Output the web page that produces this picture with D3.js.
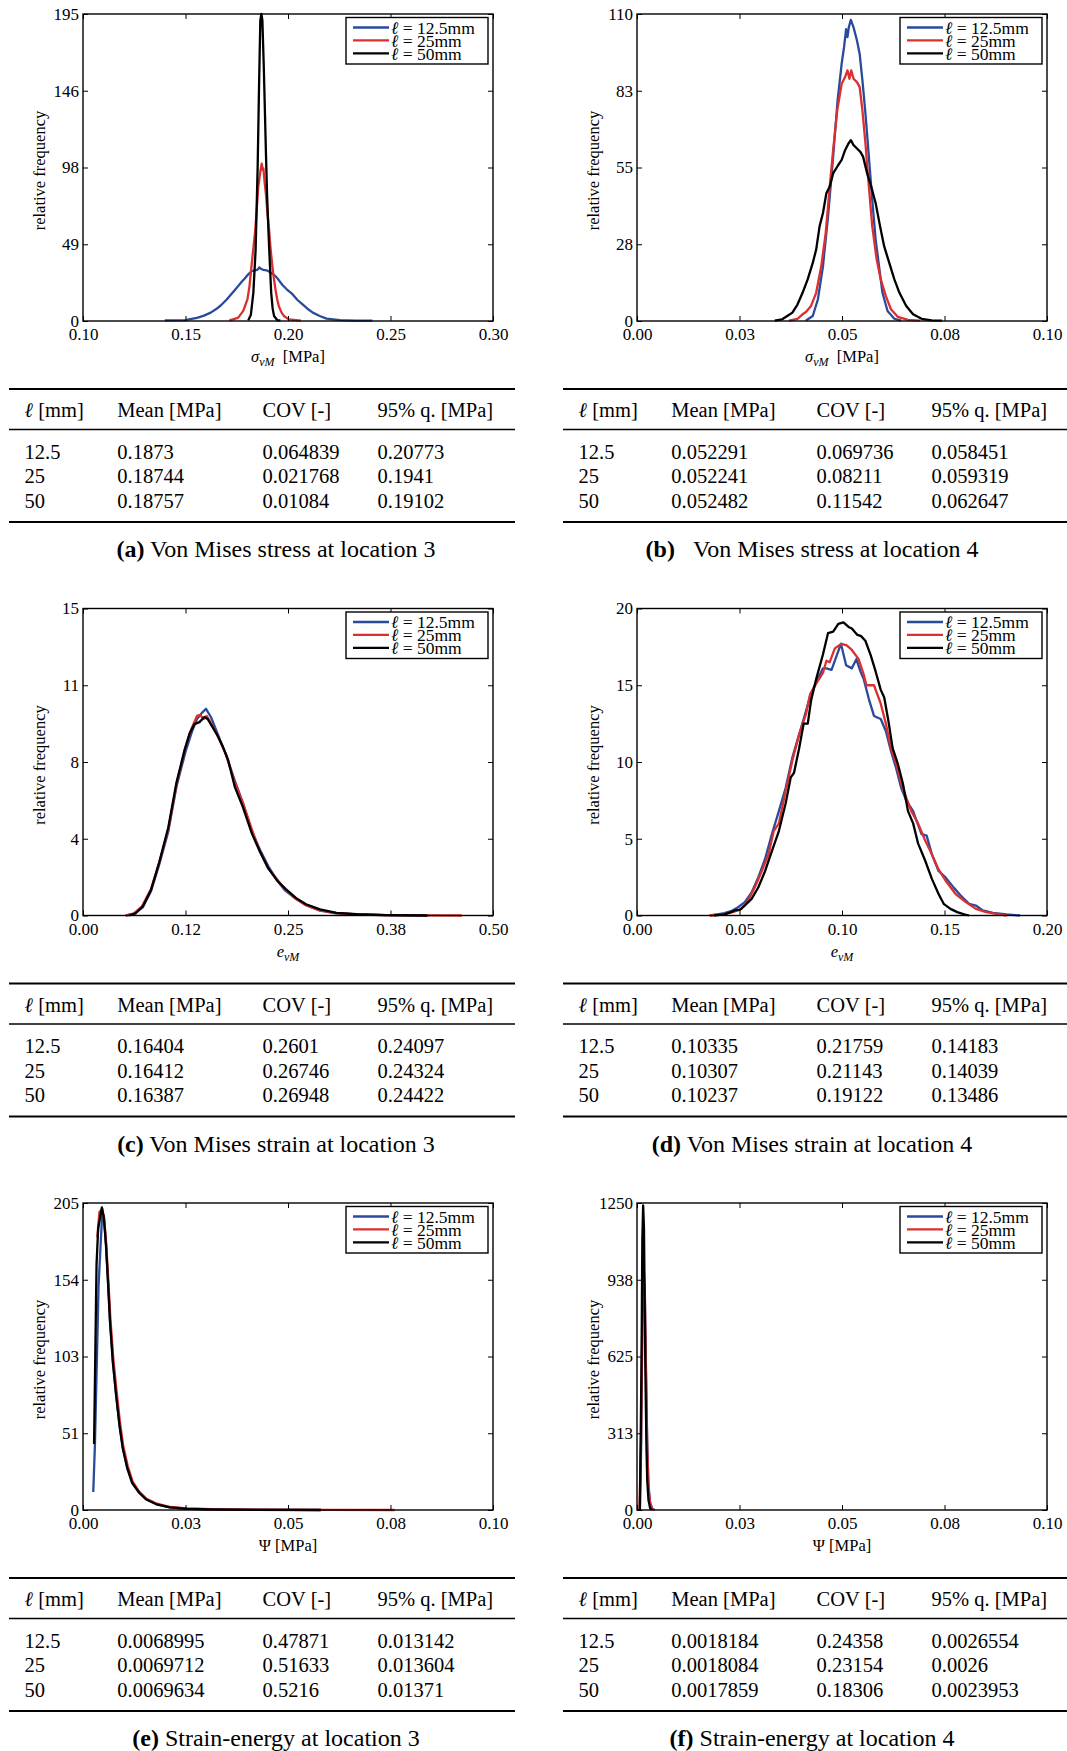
<!DOCTYPE html>
<html>
<head>
<meta charset="utf-8">
<script src="https://cdn.jsdelivr.net/npm/d3@7"></script>
<style>
  body { margin: 0; background: #fff; }
  svg { display: block; font-family: "Liberation Serif", "Times New Roman", serif; }
</style>
</head>
<body>
<svg id="fig" width="1067" height="1751"></svg>
<script>
// ---------- series: [value, relative frequency] ----------
// (a) von Mises stress, location 3
const aL125 = [[0.1399,0.4],[0.1498,0.6],[0.1556,2],[0.1590,3.4],[0.1623,5.3],[0.1650,7.6],[0.1673,10],[0.1700,13.5],[0.1723,17],[0.1740,19.6],[0.1756,22],[0.1772,24.6],[0.1789,27],[0.1805,29.5],[0.1822,31.6],[0.1840,32.2],[0.1852,32.6],[0.1860,34],[0.1870,33],[0.1880,32.5],[0.1895,32.2],[0.1905,31.6],[0.1922,30.2],[0.1939,28.5],[0.1955,26],[0.1972,23],[0.1995,20],[0.2022,17],[0.2045,13.5],[0.2071,10.5],[0.2095,7.8],[0.2121,5.3],[0.2155,3.2],[0.2188,1.5],[0.2254,0.6],[0.2330,0.3],[0.2412,0.2]];
const aL25 = [[0.1714,0.4],[0.1756,2],[0.1781,6.3],[0.1802,13.7],[0.1812,22],[0.1822,34.8],[0.1830,45],[0.1839,55.9],[0.1847,70],[0.1855,85.4],[0.1865,94.9],[0.1872,100],[0.1876,96],[0.1880,97],[0.1886,88],[0.1892,81],[0.1900,68],[0.1909,55.9],[0.1915,46],[0.1922,36.9],[0.1930,28],[0.1939,20],[0.1947,14],[0.1955,9.5],[0.1968,5.5],[0.1980,3.2],[0.2005,1],[0.2063,0.2]];
const aL50 = [[0.1806,0.4],[0.1819,4],[0.1831,18],[0.1842,45],[0.1852,98],[0.1859,151],[0.1865,191],[0.1870,195],[0.1875,191],[0.1882,161],[0.1892,108.6],[0.1898,80],[0.1905,56],[0.1912,35],[0.1918,18],[0.1925,8],[0.1932,3.2],[0.1947,0.6],[0.1963,0.2]];

// (b) von Mises stress, location 4
const bL125 = [[0.04121,0.2],[0.04287,1.8],[0.04411,7.7],[0.04536,19.6],[0.0466,37.5],[0.04784,58.9],[0.04892,79],[0.04992,92.2],[0.0505,98.1],[0.051,104.6],[0.05133,101.7],[0.05166,105.2],[0.05216,107.9],[0.05282,105.2],[0.05365,100.5],[0.05431,95.7],[0.05498,86.2],[0.05572,74.3],[0.05655,58.9],[0.05738,43.4],[0.05821,29.1],[0.05904,19.6],[0.05987,10.1],[0.06111,3.6],[0.06277,0.8],[0.06443,0.1]];
const bL25 = [[0.03706,0.1],[0.03914,0.8],[0.04038,2.4],[0.04121,3.2],[0.04245,5.4],[0.0437,10.1],[0.04494,19.6],[0.04602,31.5],[0.04701,48.2],[0.04784,61.2],[0.04884,75.5],[0.04992,85],[0.05075,87.4],[0.05133,89.8],[0.05182,86.8],[0.05224,89.8],[0.05282,86.8],[0.05365,85.6],[0.05431,83.8],[0.05498,75.5],[0.05572,63.6],[0.05655,48.2],[0.05738,33.9],[0.05846,22],[0.05945,14.9],[0.0607,8.9],[0.06194,4.2],[0.0636,1.5],[0.06609,0.4],[0.06899,0.1]];
const bL50 = [[0.03358,0.1],[0.0354,0.6],[0.03665,1.8],[0.0379,3],[0.03914,5.9],[0.04038,10.1],[0.04163,14.9],[0.04287,20.8],[0.0437,25.6],[0.04453,33.9],[0.04536,38.7],[0.04619,45.8],[0.04701,48.2],[0.04784,52.9],[0.04909,55.9],[0.04992,57.7],[0.05075,61.2],[0.05158,63.6],[0.05216,64.8],[0.05282,63],[0.05365,61.8],[0.05448,60.6],[0.05514,58.9],[0.05614,52.9],[0.05713,48.2],[0.05821,42.2],[0.05929,33.9],[0.06028,26.8],[0.06153,20.8],[0.06277,14.9],[0.06401,10.1],[0.06567,5.4],[0.06733,2.4],[0.0694,0.8],[0.07189,0.2],[0.07438,0.1]];

// (c) von Mises strain, location 3
const cL125 = [[0.052,0],[0.062,0.08],[0.073,0.4],[0.083,1.2],[0.093,2.5],[0.104,4.1],[0.114,6.3],[0.125,8.0],[0.133,9.0],[0.139,9.6],[0.145,9.9],[0.150,10.1],[0.156,9.7],[0.164,8.9],[0.174,7.9],[0.185,6.6],[0.195,5.5],[0.206,4.1],[0.216,3.2],[0.226,2.4],[0.237,1.7],[0.247,1.2],[0.260,0.8],[0.272,0.5],[0.289,0.24],[0.309,0.11],[0.334,0.05],[0.368,0.02],[0.420,0]];
const cL25 = [[0.052,0],[0.062,0.1],[0.072,0.45],[0.083,1.3],[0.093,2.6],[0.104,4.2],[0.114,6.4],[0.124,8.1],[0.132,9.1],[0.139,9.75],[0.143,9.8],[0.147,9.6],[0.151,9.75],[0.156,9.4],[0.164,8.8],[0.174,7.9],[0.185,6.5],[0.195,5.5],[0.206,4.2],[0.216,3.1],[0.226,2.3],[0.237,1.75],[0.247,1.25],[0.260,0.8],[0.272,0.5],[0.289,0.25],[0.309,0.12],[0.334,0.05],[0.370,0.02],[0.420,0.01],[0.462,0]];
const cL50 = [[0.056,0],[0.064,0.1],[0.073,0.45],[0.083,1.25],[0.093,2.6],[0.104,4.3],[0.114,6.5],[0.124,8.1],[0.130,8.9],[0.136,9.35],[0.142,9.45],[0.148,9.7],[0.152,9.6],[0.158,9.2],[0.164,8.8],[0.170,8.3],[0.177,7.6],[0.185,6.3],[0.195,5.3],[0.206,4.0],[0.216,3.1],[0.226,2.3],[0.237,1.7],[0.247,1.3],[0.260,0.85],[0.272,0.55],[0.289,0.3],[0.309,0.13],[0.334,0.06],[0.370,0.02],[0.420,0]];

// (d) von Mises strain, location 4
const dL125 = [[0.0355,0],[0.0393,0.07],[0.0426,0.15],[0.0459,0.28],[0.0493,0.54],[0.0526,0.87],[0.0559,1.5],[0.0592,2.5],[0.0625,3.7],[0.0658,5.3],[0.0692,6.8],[0.0725,8.3],[0.0758,10.3],[0.0791,11.8],[0.0824,13.3],[0.0849,14.5],[0.0882,15.4],[0.0907,16.1],[0.0924,16.1],[0.0949,16.0],[0.0973,16.9],[0.0995,17.7],[0.102,16.3],[0.1048,16.1],[0.107,16.7],[0.109,15.9],[0.1106,15.4],[0.1131,14.1],[0.1156,13.0],[0.1189,12.8],[0.1214,12.0],[0.1239,10.7],[0.1264,9.6],[0.1289,8.3],[0.1313,7.5],[0.1347,6.8],[0.1363,6.2],[0.1388,5.3],[0.1413,5.2],[0.1438,4.0],[0.1471,2.9],[0.1504,2.5],[0.1546,1.8],[0.1579,1.3],[0.162,0.76],[0.1653,0.65],[0.1687,0.33],[0.1736,0.17],[0.1803,0.07],[0.1869,0]];
const dL25 = [[0.0355,0],[0.0426,0.1],[0.0476,0.26],[0.0509,0.43],[0.0542,0.98],[0.0575,1.84],[0.0609,2.9],[0.0642,4.0],[0.0667,5.5],[0.0692,6.0],[0.0725,8.1],[0.0758,10.1],[0.0791,11.8],[0.0824,13.1],[0.0844,14.4],[0.0874,15.1],[0.0907,15.8],[0.0924,16.6],[0.094,16.5],[0.0965,17.4],[0.0998,17.7],[0.1023,17.6],[0.1048,17.3],[0.1081,16.7],[0.1106,15.7],[0.1119,15.0],[0.1156,15.0],[0.1189,13.8],[0.1214,12.5],[0.1239,10.9],[0.1264,9.9],[0.1289,8.6],[0.1313,7.7],[0.1338,6.8],[0.1371,6.0],[0.1405,4.9],[0.1438,4.0],[0.1471,3.0],[0.1504,2.3],[0.1554,1.4],[0.1604,0.87],[0.1653,0.43],[0.1703,0.22],[0.1753,0.11],[0.1803,0]];
const dL50 = [[0.0376,0],[0.0426,0.07],[0.0459,0.22],[0.0476,0.33],[0.0501,0.37],[0.0526,0.65],[0.0559,1.08],[0.0592,1.84],[0.0625,2.9],[0.0658,4.2],[0.0692,5.5],[0.0725,7.3],[0.075,9.0],[0.0766,9.3],[0.0791,10.9],[0.0813,12.5],[0.0833,12.5],[0.0849,14.0],[0.0874,15.4],[0.0907,17.0],[0.0932,18.4],[0.0957,18.5],[0.0982,19.0],[0.1007,19.1],[0.1032,18.8],[0.1048,18.7],[0.1073,18.3],[0.1093,18.2],[0.1114,17.9],[0.1139,17.0],[0.1164,15.9],[0.1189,14.7],[0.1206,14.2],[0.1226,12.7],[0.1247,10.9],[0.1272,9.9],[0.1297,8.6],[0.1322,6.8],[0.1347,6.0],[0.1371,4.7],[0.1405,3.6],[0.1438,2.4],[0.1471,1.4],[0.1496,0.76],[0.1529,0.43],[0.1562,0.22],[0.1596,0.07],[0.162,0]];

// (e) strain energy, location 3
const eL125 = [[0.0025,12],[0.0029,43],[0.0038,150],[0.0047,199],[0.0051,196],[0.0056,178],[0.0061,153],[0.0066,126],[0.0073,99],[0.0081,77],[0.0089,57],[0.0097,42],[0.0108,28],[0.012,18.5],[0.0137,11.8],[0.0154,7.3],[0.0179,4],[0.0212,1.8],[0.0253,0.9],[0.0311,0.45],[0.042,0.2],[0.058,0]];
const eL25 = [[0.0035,182],[0.004,199],[0.0047,201],[0.0052,193],[0.0057,176],[0.0062,152],[0.0067,127],[0.0074,101],[0.0082,79],[0.009,59],[0.0098,43],[0.0109,29.5],[0.0121,19],[0.0138,12],[0.0155,7.5],[0.018,4.2],[0.0213,2],[0.0254,1],[0.0312,0.5],[0.042,0.25],[0.06,0.1],[0.076,0]];
const eL50 = [[0.0027,44],[0.0033,164],[0.0037,188],[0.0046,202],[0.0051,195],[0.0056,177],[0.0061,152],[0.0066,125],[0.0073,98],[0.0081,76],[0.0089,56.5],[0.0097,41],[0.0108,28],[0.012,18],[0.0137,11.5],[0.0154,7],[0.0179,3.8],[0.0212,1.7],[0.0253,0.8],[0.0311,0.4],[0.042,0.15],[0.058,0]];

// (f) strain energy, location 4
const fL125 = [[0.0007,0],[0.0010,250],[0.0013,750],[0.0016,950],[0.0019,880],[0.0022,560],[0.0025,270],[0.0028,100],[0.0032,30],[0.0037,6],[0.0043,0]];
const fL25 = [[0.0006,0],[0.0010,300],[0.0013,800],[0.0016,1000],[0.0019,900],[0.0022,550],[0.0025,250],[0.0028,90],[0.0032,25],[0.0037,5],[0.0042,0]];
const fL50 = [[0.0007,0],[0.0011,600],[0.0013,1100],[0.0015,1240],[0.0017,1150],[0.0019,800],[0.0021,500],[0.0023,260],[0.0025,120],[0.0028,40],[0.0032,8],[0.0036,0]];

// ---------- axis ticks ----------
const xTicksA = [0.10, 0.15, 0.20, 0.25, 0.30];
const xLabelsA = ["0.10", "0.15", "0.20", "0.25", "0.30"];
const yTicksA = [0, 48.75, 97.5, 146.25, 195];
const yLabelsA = ["0", "49", "98", "146", "195"];
const xTicksB = [0, 0.025, 0.05, 0.075, 0.1];
const xLabelsB = ["0.00", "0.03", "0.05", "0.08", "0.10"];
const yTicksB = [0, 27.5, 55, 82.5, 110];
const yLabelsB = ["0", "28", "55", "83", "110"];
const xTicksC = [0, 0.125, 0.25, 0.375, 0.5];
const xLabelsC = ["0.00", "0.12", "0.25", "0.38", "0.50"];
const yTicksC = [0, 3.75, 7.5, 11.25, 15];
const yLabelsC = ["0", "4", "8", "11", "15"];
const xTicksD = [0, 0.05, 0.10, 0.15, 0.20];
const xLabelsD = ["0.00", "0.05", "0.10", "0.15", "0.20"];
const yTicksD = [0, 5, 10, 15, 20];
const yLabelsD = ["0", "5", "10", "15", "20"];
const xTicksE = [0, 0.025, 0.05, 0.075, 0.1];
const xLabelsE = ["0.00", "0.03", "0.05", "0.08", "0.10"];
const yTicksE = [0, 51.25, 102.5, 153.75, 205];
const yLabelsE = ["0", "51", "103", "154", "205"];
const xTicksF = [0, 0.025, 0.05, 0.075, 0.1];
const xLabelsF = ["0.00", "0.03", "0.05", "0.08", "0.10"];
const yTicksF = [0, 312.5, 625, 937.5, 1250];
const yLabelsF = ["0", "313", "625", "938", "1250"];

// ---------- legend ----------
const seriesNames = ["12.5mm", "25mm", "50mm"];
const seriesColors = ["#2a4a9c", "#dc2f2f", "#000000"];

// ---------- statistics tables: [ℓ, mean, COV, 95% quantile] ----------
const tableHeader = ["[mm]", "Mean [MPa]", "COV [-]", "95% q. [MPa]"];
const tabA = [["12.5","0.1873","0.064839","0.20773"],["25","0.18744","0.021768","0.1941"],["50","0.18757","0.01084","0.19102"]];
const tabB = [["12.5","0.052291","0.069736","0.058451"],["25","0.052241","0.08211","0.059319"],["50","0.052482","0.11542","0.062647"]];
const tabC = [["12.5","0.16404","0.2601","0.24097"],["25","0.16412","0.26746","0.24324"],["50","0.16387","0.26948","0.24422"]];
const tabD = [["12.5","0.10335","0.21759","0.14183"],["25","0.10307","0.21143","0.14039"],["50","0.10237","0.19122","0.13486"]];
const tabE = [["12.5","0.0068995","0.47871","0.013142"],["25","0.0069712","0.51633","0.013604"],["50","0.0069634","0.5216","0.01371"]];
const tabF = [["12.5","0.0018184","0.24358","0.0026554"],["25","0.0018084","0.23154","0.0026"],["50","0.0017859","0.18306","0.0023953"]];

const captionTags = ["(a)", "(b)", "(c)", "(d)", "(e)", "(f)"];
const captionTexts = [" Von Mises stress at location 3", "\u2002\u00a0Von Mises stress at location 4",
  " Von Mises strain at location 3", " Von Mises strain at location 4",
  " Strain-energy at location 3", " Strain-energy at location 4"];

// ---------- panel setup ----------
const panels = [
  { col: 0, row: 0, series: [aL125, aL25, aL50], xDom: [0.1, 0.3], yMax: 195, xt: xTicksA, xl: xLabelsA, yt: yTicksA, yl: yLabelsA, xlab: "sigma", table: tabA },
  { col: 1, row: 0, series: [bL125, bL25, bL50], xDom: [0, 0.1], yMax: 110, xt: xTicksB, xl: xLabelsB, yt: yTicksB, yl: yLabelsB, xlab: "sigma", table: tabB },
  { col: 0, row: 1, series: [cL125, cL25, cL50], xDom: [0, 0.5], yMax: 15, xt: xTicksC, xl: xLabelsC, yt: yTicksC, yl: yLabelsC, xlab: "e", table: tabC },
  { col: 1, row: 1, series: [dL125, dL25, dL50], xDom: [0, 0.2], yMax: 20, xt: xTicksD, xl: xLabelsD, yt: yTicksD, yl: yLabelsD, xlab: "e", table: tabD },
  { col: 0, row: 2, series: [eL125, eL25, eL50], xDom: [0, 0.1], yMax: 205, xt: xTicksE, xl: xLabelsE, yt: yTicksE, yl: yLabelsE, xlab: "psi", table: tabE },
  { col: 1, row: 2, series: [fL125, fL25, fL50], xDom: [0, 0.1], yMax: 1250, xt: xTicksF, xl: xLabelsF, yt: yTicksF, yl: yLabelsF, xlab: "psi", table: tabF }
];

const svg = d3.select("#fig");
const COL_DX = 554, ROW_DY = 594.5;
const PLOT_L = 83, PLOT_T = 14, PW = 410, PH = 307;
const TICK = 5;
const tickFont = "17px", tableFont = "20.5px", captionFont = "24px";
const captionCenter = [276, 258];

svg.append("rect").attr("width", 1067).attr("height", 1751).attr("fill", "#fff");

panels.forEach((p, i) => {
  const ox = p.col * COL_DX, oy = p.row * ROW_DY;
  const g = svg.append("g").attr("transform", `translate(${ox + PLOT_L},${oy + PLOT_T})`);
  const x = d3.scaleLinear().domain(p.xDom).range([0, PW]);
  const y = d3.scaleLinear().domain([0, p.yMax]).range([PH, 0]);

  const clipId = "clip" + i;
  g.append("clipPath").attr("id", clipId).append("rect").attr("x", -2).attr("y", -2).attr("width", PW + 4).attr("height", PH + 4);

  // curves
  const line = d3.line().x(d => x(d[0])).y(d => y(d[1]));
  p.series.forEach((s, k) => {
    g.append("path").datum(s).attr("d", line).attr("fill", "none")
      .attr("stroke", seriesColors[k]).attr("stroke-width", 2.3)
      .attr("stroke-linejoin", "round").attr("clip-path", `url(#${clipId})`);
  });

  // axes with inward ticks on all four sides
  const styleAxis = sel => {
    sel.select(".domain").remove();
    sel.selectAll(".tick line").attr("stroke", "#000").attr("stroke-width", 1);
    sel.selectAll(".tick text").style("font-size", tickFont).style("font-family", "Liberation Serif, serif").attr("fill", "#000");
  };
  g.append("g").attr("transform", `translate(0,${PH})`)
    .call(d3.axisBottom(x).tickValues(p.xt).tickFormat((d, j) => p.xl[j]).tickSizeInner(-TICK).tickSizeOuter(0).tickPadding(7))
    .call(styleAxis);
  g.append("g")
    .call(d3.axisTop(x).tickValues(p.xt).tickFormat("").tickSizeInner(-TICK).tickSizeOuter(0))
    .call(styleAxis);
  g.append("g")
    .call(d3.axisLeft(y).tickValues(p.yt).tickFormat((d, j) => p.yl[j]).tickSizeInner(-TICK).tickSizeOuter(0).tickPadding(4))
    .call(styleAxis);
  g.append("g").attr("transform", `translate(${PW},0)`)
    .call(d3.axisRight(y).tickValues(p.yt).tickFormat("").tickSizeInner(-TICK).tickSizeOuter(0))
    .call(styleAxis);

  // frame
  g.append("rect").attr("x", 0).attr("y", 0).attr("width", PW).attr("height", PH)
    .attr("fill", "none").attr("stroke", "#000").attr("stroke-width", 1.4);

  // y label
  g.append("text").attr("transform", "rotate(-90)")
    .attr("x", -PH / 2 - 3).attr("y", -43).attr("dy", "0.32em")
    .attr("text-anchor", "middle").style("font-size", "16.5px").text("relative frequency");

  // x label
  const xt = g.append("text").attr("x", PW / 2).attr("y", PH + 41).attr("text-anchor", "middle").style("font-size", "16.5px");
  if (p.xlab === "sigma") {
    xt.append("tspan").style("font-style", "italic").text("σ");
    xt.append("tspan").style("font-style", "italic").style("font-size", "12px").attr("dy", 4).text("vM");
    xt.append("tspan").attr("dy", -4).text("\u2002[MPa]");
  } else if (p.xlab === "e") {
    xt.append("tspan").style("font-style", "italic").text("e");
    xt.append("tspan").style("font-style", "italic").style("font-size", "12px").attr("dy", 4).text("vM");
  } else {
    xt.append("tspan").text("Ψ [MPa]");
  }

  // legend
  const lg = g.append("g").attr("transform", `translate(${PW - 147},3.5)`);
  lg.append("rect").attr("width", 142).attr("height", 46.5).attr("fill", "#fff").attr("stroke", "#000").attr("stroke-width", 1.4);
  seriesNames.forEach((nm, k) => {
    const ly = 10 + k * 12.9;
    lg.append("line").attr("x1", 7).attr("x2", 43).attr("y1", ly).attr("y2", ly)
      .attr("stroke", seriesColors[k]).attr("stroke-width", 2.3);
    const t = lg.append("text").attr("x", 45).attr("y", ly).attr("dy", "0.36em").style("font-size", "17.5px");
    t.append("tspan").style("font-style", "italic").text("ℓ");
    t.append("tspan").text(" = " + nm);
  });

  // statistics table
  const tg = svg.append("g").attr("transform", `translate(${ox},${oy})`);
  const TL = 9, TR = 515;
  const rule = (yy, w) => tg.append("line").attr("x1", TL).attr("x2", TR).attr("y1", yy).attr("y2", yy)
    .attr("stroke", "#000").attr("stroke-width", w);
  rule(389, 2.2);
  rule(429.5, 1.3);
  rule(522, 2.2);
  const colX = [24.6, 117.3, 262.6, 377.6];
  const hdr = tg.append("g").style("font-size", tableFont);
  const h0 = hdr.append("text").attr("x", colX[0]).attr("y", 417);
  h0.append("tspan").style("font-style", "italic").text("ℓ");
  h0.append("tspan").text(" " + tableHeader[0]);
  for (let c = 1; c < 4; c++) {
    hdr.append("text").attr("x", colX[c]).attr("y", 417).text(tableHeader[c]);
  }
  const rowY = [458.5, 483, 507.5];
  p.table.forEach((r, ri) => {
    r.forEach((v, c) => {
      tg.append("text").attr("x", colX[c]).attr("y", rowY[ri]).style("font-size", tableFont).text(v);
    });
  });

  // caption
  const cap = tg.append("text").attr("x", captionCenter[p.col]).attr("y", 557).attr("text-anchor", "middle").style("font-size", captionFont);
  cap.append("tspan").style("font-weight", "bold").text(captionTags[i]);
  cap.append("tspan").text(captionTexts[i]);
});
</script>
</body>
</html>
